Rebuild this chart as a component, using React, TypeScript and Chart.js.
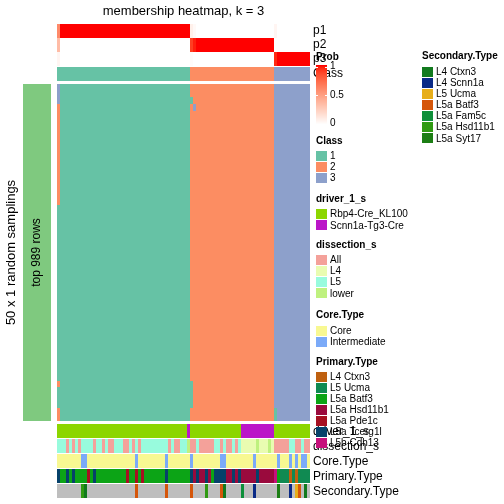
import React, { useEffect, useRef } from "react";
import { Chart, registerables } from "chart.js";
Chart.register(...registerables);

const FONT = '"Liberation Sans", Arial, Helvetica, sans-serif';

// ---------- data ----------
const title = "membership heatmap, k = 3";
const rowTitle = "50 x 1 random samplings";
const rowGroupLabel = "top 989 rows";
const samplingCount = 50;
const columnCount = 84;

const classNames = ["1", "2", "3"];
const classColors = ["#66C2A5", "#FC8D62", "#8DA0CB"];

// consensus class of each column
const columnClass = [
  1, 1, 1, 1, 1, 1, 1, 1, 1, 1,
  1, 1, 1, 1, 1, 1, 1, 1, 1, 1,
  1, 1, 1, 1, 1, 1, 1, 1, 1, 1,
  1, 1, 1, 1, 1, 1, 1, 1, 1, 1,
  1, 1, 1, 1, 2, 2, 2, 2, 2, 2,
  2, 2, 2, 2, 2, 2, 2, 2, 2, 2,
  2, 2, 2, 2, 2, 2, 2, 2, 2, 2,
  2, 2, 3, 3, 3, 3, 3, 3, 3, 3,
  3, 3, 3, 3,
];

const probP1 = [
  0.6, 1, 1, 1, 1, 1, 1, 1, 1, 1,
  1, 1, 1, 1, 1, 1, 1, 1, 1, 1,
  1, 1, 1, 1, 1, 1, 1, 1, 1, 1,
  1, 1, 1, 1, 1, 1, 1, 1, 1, 1,
  1, 1, 1, 1, 0.08, 0.03, 0, 0, 0, 0,
  0, 0, 0, 0, 0, 0, 0, 0, 0, 0,
  0, 0, 0, 0, 0, 0, 0, 0, 0, 0,
  0, 0, 0.05, 0, 0, 0, 0, 0, 0, 0,
  0, 0, 0, 0,
];
const probP2 = [
  0.35, 0, 0, 0, 0, 0, 0, 0, 0, 0,
  0, 0, 0, 0, 0, 0, 0, 0, 0, 0,
  0, 0, 0, 0, 0, 0, 0, 0, 0, 0,
  0, 0, 0, 0, 0, 0, 0, 0, 0, 0,
  0, 0, 0, 0, 0.9, 0.97, 1, 1, 1, 1,
  1, 1, 1, 1, 1, 1, 1, 1, 1, 1,
  1, 1, 1, 1, 1, 1, 1, 1, 1, 1,
  1, 1, 0, 0, 0, 0, 0, 0, 0, 0,
  0, 0, 0, 0,
];
const probP3 = [
  0.05, 0, 0, 0, 0, 0, 0, 0, 0, 0,
  0, 0, 0, 0, 0, 0, 0, 0, 0, 0,
  0, 0, 0, 0, 0, 0, 0, 0, 0, 0,
  0, 0, 0, 0, 0, 0, 0, 0, 0, 0,
  0, 0, 0, 0, 0.02, 0, 0, 0, 0, 0,
  0, 0, 0, 0, 0, 0, 0, 0, 0, 0,
  0, 0, 0, 0, 0, 0, 0, 0, 0, 0,
  0, 0, 0.95, 1, 1, 1, 1, 1, 1, 1,
  1, 1, 1, 1,
];

// samplings that disagree with the consensus: [column, firstRow, lastRow, class]
const samplingOverrides = [
  [0, 0, 2, 3],
  [0, 3, 17, 2],
  [0, 44, 44, 2],
  [0, 48, 49, 2],
  [44, 2, 2, 1],
  [44, 44, 47, 1],
  [45, 3, 3, 3],
  [72, 48, 49, 1],
];

// annotations (one character per column)
const driverNames = ["Rbp4-Cre_KL100", "Scnn1a-Tg3-Cre"];
const driverColors = ["#8CD600", "#BB16C8"];
const driverCodes = "0000000000" + "0000000000" + "0000000000" + "0000000000" + "0001000000" + "0000000000" + "0111111111" + "1100000000" + "0000";

const dissectionNames = ["All", "L4", "L5", "lower"];
const dissectionColors = ["#F4A19A", "#E9FCB1", "#98FBDD", "#BFF17F"];
const dissectionCodes = "555A5A5A55" + "55A55A5AA5" + "55AA5A5A55" + "5555555A5A" + "A55wAA5AAA" + "AA55A5AA5A" + "544444w444" + "w4AAAAA55A" + "A5AA";
const dissectionKeys = "A45w";

const coreNames = ["Core", "Intermediate"];
const coreColors = ["#F8F892", "#7BAAF8"];
const coreCodes = "YYYYYYYYII" + "YYYYYYYYYY" + "YYYYYYIYYY" + "YYYYYYIYYY" + "YYYYIYYYYY" + "YYYYIIYYYY" + "YYYYYIYYYY" + "YYYIYYYIYI" + "YIIY";
const coreKeys = "YI";

const primaryNames = ["L4 Ctxn3", "L5 Ucma", "L5a Batf3", "L5a Hsd11b1", "L5a Pde1c", "L5a Tcerg1l", "L5b Cdh13"];
const primaryColors = ["#BF600F", "#108A52", "#0CA416", "#9A0A3D", "#A61021", "#06416A", "#C6107C"];
const primaryCodes = "tbbtbtbbbb" + "pbtbbbbbbb" + "bbbpbbpbpb" + "bbbbbbtbbb" + "bbbbththht" + "hbtttthhth" + "thhhhhthhh" + "hhdbuuucuc" + "uuuu";
const primaryKeys = "cubhptd";

const secondaryNames = ["L4 Ctxn3", "L4 Scnn1a", "L5 Ucma", "L5a Batf3", "L5a Fam5c", "L5a Hsd11b1", "L5a Syt17"];
const secondaryColors = ["#127A1E", "#0A2A86", "#E7AE1A", "#D5560A", "#0E8F3A", "#2F9A12", "#1C7E14"];
const secondaryNA = "#BEBEBE";
const secondaryCodes = "........HC" + ".........." + "......B..." + "......B..." + "....B....H" + "....BC...." + ".F...S...." + "...Y...S.U" + "B.C.";
const secondaryKeys = "CSUBFHY";

const probTicks = [1, 0.5, 0];
const probTickLabels = ["1", "0.5", "0"];

// ---------- colour helpers ----------
function toLin(c: number) { c /= 255; return c <= 0.04045 ? c / 12.92 : Math.pow((c + 0.055) / 1.055, 2.4); }
function fromLin(v: number) {
  v = v <= 0.0031308 ? 12.92 * v : 1.055 * Math.pow(v, 1 / 2.4) - 0.055;
  return Math.round(Math.min(1, Math.max(0, v)) * 255);
}
function rgbToLab(r: number, g: number, b: number) {
  const R = toLin(r), G = toLin(g), B = toLin(b);
  const X = (0.4124 * R + 0.3576 * G + 0.1805 * B) / 0.95047;
  const Y = 0.2126 * R + 0.7152 * G + 0.0722 * B;
  const Z = (0.0193 * R + 0.1192 * G + 0.9505 * B) / 1.08883;
  const f = (t: number) => (t > 0.008856 ? Math.cbrt(t) : 7.787 * t + 16 / 116);
  const fx = f(X), fy = f(Y), fz = f(Z);
  return [116 * fy - 16, 500 * (fx - fy), 200 * (fy - fz)];
}
function labToRgb(L: number, a: number, b: number) {
  const fy = (L + 16) / 116, fx = fy + a / 500, fz = fy - b / 200;
  const inv = (f: number) => (f * f * f > 0.008856 ? f * f * f : (f - 16 / 116) / 7.787);
  const X = inv(fx) * 0.95047, Y = inv(fy), Z = inv(fz) * 1.08883;
  const r = 3.2406 * X - 1.5372 * Y - 0.4986 * Z;
  const g = -0.9689 * X + 1.8758 * Y + 0.0415 * Z;
  const bb = 0.0557 * X - 0.204 * Y + 1.057 * Z;
  return `rgb(${fromLin(r)},${fromLin(g)},${fromLin(bb)})`;
}
const LAB_WHITE = rgbToLab(255, 255, 255);
const LAB_RED = rgbToLab(255, 0, 0);
function probColor(p: number) {
  return labToRgb(
    LAB_WHITE[0] + (LAB_RED[0] - LAB_WHITE[0]) * p,
    LAB_WHITE[1] + (LAB_RED[1] - LAB_WHITE[1]) * p,
    LAB_WHITE[2] + (LAB_RED[2] - LAB_WHITE[2]) * p
  );
}

// ---------- layout (pixels) ----------
const probTrackTops = [24, 38, 52];
const probTrackH = 14;
const classTrackTop = 67;
const classTrackH = 14;
const bottomTrackTops = [424, 439, 454, 469, 484];
const bottomTrackH = 14;
const bottomTrackNames = ["driver_1_s", "dissection_s", "Core.Type", "Primary.Type", "Secondary.Type"];

function sampleClass(row: number, col: number) {
  let cls = columnClass[col];
  for (const [c, r0, r1, k] of samplingOverrides) {
    if (c === col && row >= r0 && row <= r1) cls = k;
  }
  return cls;
}

const heatmapPlugin = {
  id: "membershipHeatmap",
  beforeDraw(chart: any) {
    const ctx = chart.ctx;
    ctx.save();
    ctx.fillStyle = "#ffffff";
    ctx.fillRect(0, 0, chart.width, chart.height);
    ctx.restore();
  },
  afterDraw(chart: any) {
    const ctx: CanvasRenderingContext2D = chart.ctx;
    const xs = chart.scales.x;
    const ys = chart.scales.y;
    const X = (c: number) => Math.round(xs.getPixelForValue(c));
    const Y = (r: number) => Math.round(ys.getPixelForValue(r));
    const area = chart.chartArea;
    ctx.save();

    const drawRuns = (colors: string[], y0: number, y1: number) => {
      let start = 0;
      for (let c = 1; c <= colors.length; c++) {
        if (c === colors.length || colors[c] !== colors[start]) {
          ctx.fillStyle = colors[start];
          ctx.fillRect(X(start), y0, X(c) - X(start), y1 - y0);
          start = c;
        }
      }
    };

    // probability tracks
    [probP1, probP2, probP3].forEach((arr, i) => {
      drawRuns(arr.map(probColor), probTrackTops[i], probTrackTops[i] + probTrackH);
    });
    // class track
    drawRuns(columnClass.map((k) => classColors[k - 1]), classTrackTop, classTrackTop + classTrackH);

    // main heatmap
    for (let r = 0; r < samplingCount; r++) {
      const colors: string[] = [];
      for (let c = 0; c < columnCount; c++) colors.push(classColors[sampleClass(r, c) - 1]);
      drawRuns(colors, Y(r), Y(r + 1));
    }

    // bottom annotations
    const tracks = [
      driverCodes.split("").map((ch) => driverColors[Number(ch)]),
      dissectionCodes.split("").map((ch) => dissectionColors[dissectionKeys.indexOf(ch)]),
      coreCodes.split("").map((ch) => coreColors[coreKeys.indexOf(ch)]),
      primaryCodes.split("").map((ch) => primaryColors[primaryKeys.indexOf(ch)]),
      secondaryCodes.split("").map((ch) => (ch === "." ? secondaryNA : secondaryColors[secondaryKeys.indexOf(ch)])),
    ];
    tracks.forEach((cols, i) => drawRuns(cols, bottomTrackTops[i], bottomTrackTops[i] + bottomTrackH));

    // left row-group bar
    ctx.fillStyle = "#7FC97F";
    ctx.fillRect(23, area.top, 28, area.bottom - area.top);

    // texts
    ctx.fillStyle = "#000";
    ctx.textBaseline = "middle";
    ctx.font = `13px ${FONT}`;
    ctx.textAlign = "center";
    ctx.fillText(title, (area.left + area.right) / 2, 11);

    ctx.save();
    ctx.translate(11, (area.top + area.bottom) / 2);
    ctx.rotate(-Math.PI / 2);
    ctx.fillText(rowTitle, 0, 0);
    ctx.restore();

    ctx.save();
    ctx.translate(37, (area.top + area.bottom) / 2);
    ctx.rotate(-Math.PI / 2);
    ctx.font = `12px ${FONT}`;
    ctx.fillText(rowGroupLabel, 0, 0);
    ctx.restore();

    // track names
    ctx.textAlign = "left";
    ctx.font = `12px ${FONT}`;
    ["p1", "p2", "p3"].forEach((t, i) => ctx.fillText(t, 313, probTrackTops[i] + probTrackH / 2));
    ctx.fillText("Class", 313, classTrackTop + classTrackH / 2);
    bottomTrackNames.forEach((t, i) => ctx.fillText(t, 313, bottomTrackTops[i] + bottomTrackH / 2 + 0.5));

    // Prob colour legend
    const lx = 316;
    ctx.font = `bold 10px ${FONT}`;
    ctx.fillText("Prob", lx, 57);
    const gTop = 65, gBot = 125;
    for (let y = gTop; y < gBot; y++) {
      const p = 1 - (y - gTop) / (gBot - gTop - 1);
      ctx.fillStyle = probColor(Math.max(0, Math.min(1, p)));
      ctx.fillRect(lx, y, 11, 1);
    }
    ctx.font = `10px ${FONT}`;
    probTicks.forEach((v, i) => {
      const y = gBot - 1.5 - v * (gBot - gTop - 3);
      ctx.fillStyle = "#fff";
      ctx.fillRect(lx, Math.round(y), 2, 1);
      ctx.fillRect(lx + 9, Math.round(y), 2, 1);
      ctx.fillStyle = "#000";
      ctx.fillText(probTickLabels[i], lx + 14, y);
    });

    const legend = (x: number, titleY: number, name: string, labels: string[], colors: string[], firstTop: number, step: number) => {
      ctx.fillStyle = "#000";
      ctx.font = `bold 10px ${FONT}`;
      ctx.fillText(name, x, titleY);
      ctx.font = `10px ${FONT}`;
      labels.forEach((lab, i) => {
        const top = firstTop + i * step;
        ctx.fillStyle = colors[i];
        ctx.fillRect(x, Math.round(top), 11, 10);
        ctx.fillStyle = "#000";
        ctx.fillText(lab, x + 14, top + 5.5);
      });
    };
    legend(lx, 141, "Class", classNames, classColors, 150.7, 11.1);
    legend(lx, 199, "driver_1_s", driverNames, driverColors, 209, 11.4);
    legend(lx, 245.7, "dissection_s", dissectionNames, dissectionColors, 255, 11.1);
    legend(lx, 315.7, "Core.Type", coreNames, coreColors, 325.7, 11.2);
    legend(lx, 362.7, "Primary.Type", primaryNames, primaryColors, 371.7, 11.05);
    legend(422, 56, "Secondary.Type", secondaryNames, secondaryColors, 66.7, 11.1);

    ctx.restore();
  },
};

export default function App() {
  const ref = useRef<HTMLCanvasElement>(null);
  useEffect(() => {
    const chart = new Chart(ref.current as HTMLCanvasElement, {
      type: "scatter",
      data: { datasets: [] },
      options: {
        animation: false,
        responsive: false,
        devicePixelRatio: 1,
        layout: { padding: { left: 57, right: 194, top: 84, bottom: 83 } },
        scales: {
          x: { type: "linear", min: 0, max: columnCount, display: false },
          y: { type: "linear", min: 0, max: samplingCount, reverse: true, display: false },
        },
        plugins: { legend: { display: false }, tooltip: { enabled: false } },
      },
      plugins: [heatmapPlugin],
    } as any);
    return () => chart.destroy();
  }, []);
  return (
    <div style={{ position: "absolute", left: 0, top: 0, width: 504, height: 504, background: "#fff" }}>
      <canvas ref={ref} width={504} height={504} style={{ display: "block", width: 504, height: 504 }} />
    </div>
  );
}
